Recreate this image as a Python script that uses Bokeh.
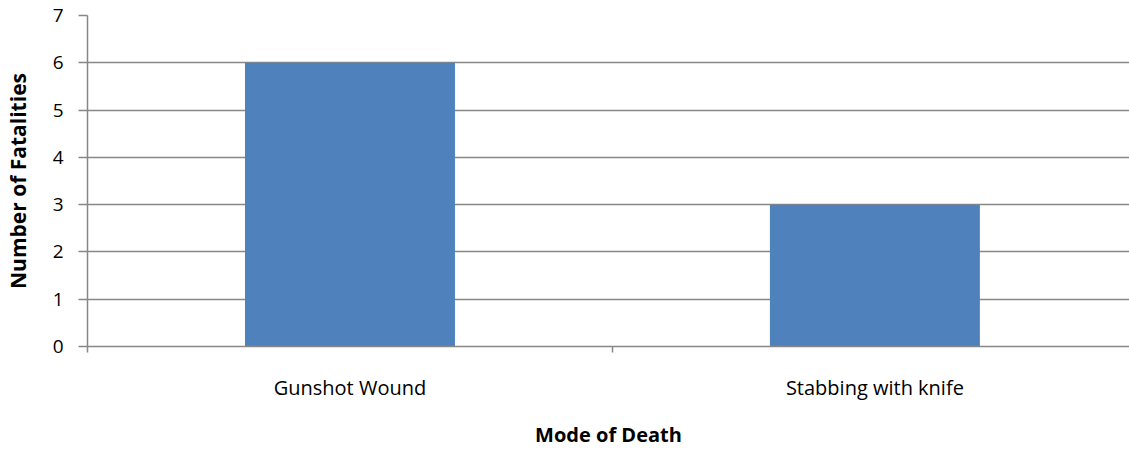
from bokeh.plotting import figure
from bokeh.models import Range1d, FixedTicker, ColumnDataSource
from bokeh.embed import file_html
from bokeh.resources import INLINE

categories = ["Gunshot Wound", "Stabbing with knife"]
fatalities = [6, 3]
y_ticks = [0, 1, 2, 3, 4, 5, 6, 7]

FONT = "Open Sans"
GRAY = "#878787"

xs = [i + 0.5 for i in range(len(categories))]
src = ColumnDataSource(dict(x=xs, top=fatalities, cat=categories))

p = figure(width=1129, height=450, output_backend="svg", toolbar_location=None,
           x_range=Range1d(0, 1.985), y_range=Range1d(0, 7),
           min_border_left=87, min_border_right=0, min_border_top=15, min_border_bottom=104)
p.outline_line_color = None

p.vbar(x="x", top="top", width=0.4, source=src, fill_color="#4f81bd", line_color=None)

# x axis
p.xaxis.ticker = FixedTicker(ticks=xs, minor_ticks=list(range(len(categories) + 1)))
p.xaxis.major_label_overrides = {x: c for x, c in zip(xs, categories)}
p.xaxis.major_tick_out = 0
p.xaxis.major_tick_in = 0
p.xaxis.minor_tick_out = 6
p.xaxis.minor_tick_in = 0
p.xaxis.minor_tick_line_color = GRAY
p.xaxis.minor_tick_line_width = 1.5
p.xaxis.axis_line_color = GRAY
p.xaxis.axis_line_width = 1.5
p.xaxis.major_label_standoff = 21
p.xaxis.major_label_text_font = FONT
p.xaxis.major_label_text_font_size = "20px"
p.xaxis.major_label_text_color = "#000000"
p.xaxis.axis_label = "Mode of Death"
p.xaxis.axis_label_text_font = FONT
p.xaxis.axis_label_text_font_size = "20px"
p.xaxis.axis_label_text_font_style = "bold"
p.xaxis.axis_label_text_color = "#000000"
p.xaxis.axis_label_standoff = 17
p.xgrid.grid_line_color = None

# y axis
p.yaxis.ticker = FixedTicker(ticks=y_ticks, minor_ticks=[])
p.yaxis.major_tick_out = 9
p.yaxis.major_tick_in = 0
p.yaxis.major_tick_line_color = GRAY
p.yaxis.major_tick_line_width = 1.5
p.yaxis.minor_tick_line_color = None
p.yaxis.axis_line_color = GRAY
p.yaxis.axis_line_width = 1.5
p.yaxis.major_label_standoff = 15
p.yaxis.major_label_text_font = FONT
p.yaxis.major_label_text_font_size = "19px"
p.yaxis.major_label_text_color = "#000000"
p.yaxis.axis_label = "Number of Fatalities"
p.yaxis.axis_label_text_font = FONT
p.yaxis.axis_label_text_font_size = "21px"
p.yaxis.axis_label_text_font_style = "bold"
p.yaxis.axis_label_text_color = "#000000"
p.yaxis.axis_label_standoff = 18
p.ygrid.grid_line_color = GRAY
p.ygrid.grid_line_width = 1.3

open("out.html", "w").write(file_html(p, INLINE))
